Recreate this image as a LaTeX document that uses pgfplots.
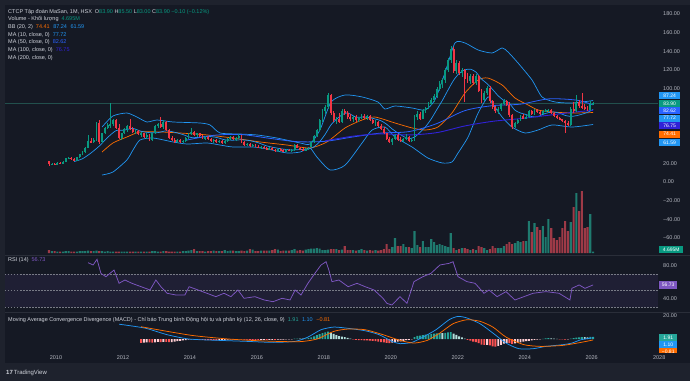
\documentclass[border=0pt]{standalone}
\usepackage{fontspec}
\setmainfont{Liberation Sans}
\usepackage{pgfplots}
\pgfplotsset{compat=1.18}
\usepgfplotslibrary{fillbetween}
\usepackage{pgfplotstable}

\definecolor{outerbg}{HTML}{1E222D}
\definecolor{bg}{HTML}{151924}
\definecolor{sep}{HTML}{2A2E39}
\definecolor{txt}{HTML}{D1D4DC}
\definecolor{tickc}{HTML}{B2B5BE}
\definecolor{up}{HTML}{089981}
\definecolor{dn}{HTML}{F23645}
\definecolor{volup}{HTML}{1F7A6F}
\definecolor{voldn}{HTML}{9E3A47}
\definecolor{bbblue}{HTML}{2196F3}
\definecolor{bbor}{HTML}{FF6D00}
\definecolor{mafifty}{HTML}{2962FF}
\definecolor{mahund}{HTML}{3022D8}
\definecolor{rsi}{HTML}{7E57C2}
\definecolor{rsidash}{HTML}{787B86}
\definecolor{hup}{HTML}{26A69A}
\definecolor{hupl}{HTML}{B2DFDB}
\definecolor{hdn}{HTML}{FF5252}
\definecolor{hdnl}{HTML}{FFCDD2}
\definecolor{pline}{HTML}{22504D}

\newcommand\sm{\fontsize{5.5}{6.6}\selectfont}

% monthly candles: m = months since Jan 2010, open high low close, volume (relative)
\pgfplotstableread{
m o h l c v
-3 22 23 17 19 3
-2 19 20 18 19.5 2
-1 19.5 20.5 18.5 19 2
0 19 21 18.5 20.5 1.5
1 20.5 21.5 19.5 20 1.5
2 20 22 19.5 21.5 1.5
3 21.5 26 21 25.5 2
4 25.5 27 24.5 26 2
5 26 27 24 24.5 1.5
6 24.5 25.5 22.5 23 1.5
7 23 27 22.5 26.5 1.5
8 26.5 30 26 29.5 2
9 29.5 33 28.5 32 2
10 32 37.5 31 36.5 2
11 36.5 50 36 44 2.5
12 44 47 41.5 42.5 2
13 42.5 47 42 45 2
14 45 64 44 63 2.5
15 63 66 41 43 2
16 43 53 42 52 2
17 52 59 51 58 1.5
18 58 63 57 61 2
19 61 85 58 62 1.5
20 62 67 60 66 1.5
21 66 67 57 58 1.5
22 58 62 46 47 1.5
23 47 53 45 52 1.5
24 52 58 51 57 1.5
25 57 61 54 60 1.5
26 60 67 56 57 1.5
27 57 59 52 54 1.5
28 54 57 51 55 1.5
29 55 56 50 51 1.5
30 51 54 48 52 1.5
31 52 53 47 48 1.5
32 48 52 46 50 1.5
33 50 51 44 45 1.5
34 45 53 44 52 2
35 52 61 51 60 2
36 60 63 58 62 1.5
37 62 70 58 59 1.5
38 59 66 57 64 2
39 64 65 55 56 2
40 56 57 46 47 1.5
41 47 49 44 45 1.5
42 45 47 42 43 1.5
43 43 46 42 45 1.5
44 45 46 42 43 1.5
45 43 45 41.5 44 2
46 44 48 43 47 2
47 47 53 46 52 2.5
48 52 58 50 54 3
49 54 55 49 50 4
50 50 53 48 52 2
51 52 53 48 49 2
52 49 50 46 47 2
53 47 49 45 48 1.5
54 48 49 45 46 2
55 46 47 43 44 2
56 44 46 42 45 2.5
57 45 46 42 43 2
58 43 45 42 44 2
59 44 45 41 42 2
60 42 45 41 44 3
61 44 47 43 46 2
62 46 49 45 48 2.5
63 48 49 45 46 2.5
64 46 48 44 47 2
65 47 51 46 49 2
66 49 50 42 43 2.5
67 43 44 39 40 2
68 40 42 39 41 2.5
69 41 42 38 39 4
70 39 41 38 40 3.5
71 40 41 37 38 2
72 38 39.5 36.5 37 2
73 37 38.5 35.5 38 2.5
74 38 38.5 35 36 2.5
75 36 37 34 35 2.5
76 35 37 34.5 36.5 2.5
77 36.5 37 34 34.5 3
78 34.5 35 32.5 33 4
79 33 35.5 32.5 35 3.5
80 35 36 33.5 34 2
81 34 35 32 32.5 2.5
82 32.5 35 32 34.5 2.5
83 34.5 35 33 33.5 2.5
84 33.5 35 32.5 34 3
85 34 41 33.5 39.5 4
86 39.5 40.5 36 36.5 2.5
87 36.5 38 34.5 35 3
88 35 36 33.5 34 2.5
89 34 36 33 35.5 3.5
90 35.5 38 34.5 37.5 4
91 37.5 44 37 43 4.5
92 43 50 42 49 4.5
93 49 57 48 56 5
94 56 67 55 66 4.5
95 66 78 64 76 3
96 76 83 73 80 3
97 80 95 78 93 3.5
98 93 94 72 74 4
99 74 76 64 66 4
100 66 70 62 68 4
101 68 74 63 64 3
102 64 78 63 76 3.5
103 76 78 72 74 7
104 74 76 68 70 3
105 70 73 65 67 3
106 67 71 64 70 3
107 70 72 64 66 2.5
108 66 70 64 69 3
109 69 73 67 71 4
110 71 73 68 69 3
111 69 72 66 71 2.5
112 71 72 65 66 3
113 66 68 62 63 2.5
114 63 66 60 64 3
115 64 65 59 60 2.5
116 60 62 56 57 3
117 57 59 51 52 4
118 52 53 45 46 9
119 46 48 42 43 4
120 43 47 40 46 6
121 46 51 45 50 15
122 50 51 44 45 7
123 45 48 43 44 7
124 44 47 43 46 9
125 46 51 45 48 6
126 48 49 43 44 6
127 44 47 43 45 5
128 45 72 44 70 22
129 70 76 66 73 8
130 73 75 66 68 6
131 68 78 67 77 12
132 77 80 74 79 6
133 79 86 78 84 6
134 84 90 82 88 14
135 88 94 86 92 11
136 92 102 90 100 8
137 100 108 97 105 9
138 105 111 101 109 8
139 109 122 106 120 7
140 120 133 118 131 6
141 131 146 128 142 20
142 142 145 117 119 5
143 119 131 116 128 3
144 128 130 115 117 4
145 117 122 112 120 5
146 120 121 86 110 5
147 110 117 106 108 4
148 108 116 105 114 3
149 114 116 104 106 4
150 106 116 104 114 3
151 114 115 96 98 7
152 98 100 85 88 6
153 88 97 87 95 5
154 95 103 93 101 3
155 101 103 85 87 4
156 87 88 78 80 7
157 80 81 74 76 5
158 76 80 73 78 5
159 78 85 76 84 5
160 84 89 82 87 7
161 87 88 81 83 9
162 83 86 70 72 11
163 72 73 57 59 9
164 59 64 58 63 10
165 63 67 62 66 12
166 66 72 65 71 11
167 71 73 67 68 12
168 68 72 67 70 12
169 70 77 69 76 32
170 76 77 72 73 21
171 73 78 72 77 30
172 77 78 74 75 26
173 75 76 72 73 23
174 73 77 72 76 27
175 76 78 75 77 16
176 77 78 75 77.5 34
177 77.5 78 73 74 25
178 74 75 70 71 15
179 71 72 68 69 13
180 69 70 66 67 16
181 67 68 64 65 25
182 65 66 52 63 32
183 63 65 60 61 22
184 61 80 60 78 31
185 78 86 74 76 46
186 76 93 75 86 60
187 86 88 79 81 42
188 81 95 78 80 62
189 80 84 77 79 25
190 79 81 76 77 26
191 77 87 76 84 39
192 83.9 85.5 83 83.9 1.5
}\candles

% MACD histogram: m, value, colour class (1 up-rising, 2 up-falling, 3 down-falling, 4 down-rising)
\pgfplotstableread{
m h k
30 -3.4 3
31 -3.2 4
32 -2.9 4
33 -3.0 3
34 -3.2 3
35 -2.8 4
36 -2.5 4
37 -2.6 3
38 -2.4 4
39 -2.5 3
40 -2.7 3
41 -2.6 4
42 -2.2 4
43 -1.8 4
44 -1.5 4
45 -1.2 4
46 -0.9 4
47 -0.5 4
48 -0.3 4
49 -0.4 3
50 -0.5 3
51 -0.6 3
52 -0.8 3
53 -0.9 3
54 -0.9 3
55 -1.0 3
56 -1.0 3
57 -1.1 3
58 -1.0 4
59 -1.0 4
60 -0.8 4
61 -0.6 4
62 -0.4 4
63 -0.3 4
64 -0.2 4
65 -0.1 4
66 -0.3 3
67 -0.5 3
68 -0.6 3
69 -0.7 3
70 -0.7 3
71 -0.8 3
72 -0.8 3
73 -0.7 4
74 -0.7 4
75 -0.8 3
76 -0.7 4
77 -0.7 4
78 -0.7 3
79 -0.6 4
80 -0.5 4
81 -0.5 4
82 -0.4 4
83 -0.3 4
84 -0.2 4
85 0.3 1
86 0.4 1
87 0.4 2
88 0.3 2
89 0.4 1
90 0.8 1
91 1.5 1
92 2.4 1
93 3.3 1
94 4.3 1
95 5.2 1
96 5.8 1
97 6.5 1
98 5.5 2
99 4.4 2
100 3.5 2
101 2.6 2
102 2.2 2
103 1.6 2
104 1.0 2
105 0.4 2
106 -0.2 3
107 -0.7 3
108 -0.9 3
109 -1.0 3
110 -1.1 3
111 -1.1 3
112 -1.4 3
113 -1.7 3
114 -1.9 3
115 -2.2 3
116 -2.6 3
117 -3.0 3
118 -3.4 3
119 -3.6 3
120 -3.2 4
121 -2.6 4
122 -2.3 4
123 -2.0 4
124 -1.6 4
125 -1.0 4
126 -0.8 4
127 -0.4 4
128 1.6 1
129 2.8 1
130 2.9 1
131 3.5 1
132 3.8 1
133 4.1 1
134 4.4 1
135 4.6 1
136 5.0 1
137 5.2 1
138 5.1 2
139 5.4 1
140 5.8 1
141 6.1 1
142 4.6 2
143 3.6 2
144 2.4 2
145 1.4 2
146 0.4 2
147 -0.7 3
148 -1.4 3
149 -2.2 3
150 -2.6 3
151 -3.6 3
152 -4.8 3
153 -5.1 3
154 -5.0 4
155 -5.6 3
156 -6.3 3
157 -6.6 3
158 -6.0 4
159 -5.0 4
160 -4.0 4
161 -3.4 4
162 -3.6 3
163 -4.2 3
164 -3.8 4
165 -3.3 4
166 -2.8 4
167 -2.3 4
168 -1.9 4
169 -1.5 4
170 -1.1 4
171 -0.8 4
172 -0.5 4
173 -0.3 4
174 0.2 1
175 0.5 1
176 0.7 1
177 0.6 2
178 0.4 2
179 0.2 2
180 -0.2 3
181 -0.4 3
182 -0.5 3
183 -0.4 4
184 0.4 1
185 0.8 1
186 1.3 1
187 1.5 1
188 1.7 1
189 1.6 2
190 1.5 2
191 1.8 1
192 1.91 1
}\hist

\pgfplotsset{
  pane/.style={scale only axis, width=653pt, xmin=-18.28, xmax=215.77,
    axis line style={draw=none}, tick style={draw=none}, major tick length=0pt,
    xtick=\empty, clip=true,
    ticklabel style={font=\sm, text=tickc},
    yticklabel pos=right,
    yticklabel style={anchor=west, inner sep=0pt, xshift=5pt}},
  vbody/.style={draw=none, mark=none, error bars/y dir=both, error bars/y explicit, error bars/error mark=none},
}
\tikzset{vbox/.style={anchor=west, inner sep=0pt, minimum height=7.3pt, minimum width=21pt, text=white, font=\fontsize{5}{5}\selectfont}}

\begin{document}
\begin{tikzpicture}[x=1pt,y=1pt]
\fill[outerbg] (0,0) rectangle (690,381);
\fill[bg] (5,18) rectangle (690,376);

% ---------- volume ----------
\begin{axis}[pane, at={(5pt,128pt)}, anchor=south west, height=248pt, ymin=0, ymax=248, ytick=\empty]
\addplot[ybar, bar width=2.1pt, bar shift=0pt, fill=volup, draw=none,
  restrict expr to domain={\thisrow{c}-\thisrow{o}}{0:1000}]
  table[x expr=\thisrow{m}+0.5, y=v] {\candles};
\addplot[ybar, bar width=2.1pt, bar shift=0pt, fill=voldn, draw=none,
  restrict expr to domain={\thisrow{c}-\thisrow{o}}{-1000:-0.001}]
  table[x expr=\thisrow{m}+0.5, y=v] {\candles};
\end{axis}

% ---------- price ----------
\begin{axis}[pane, at={(5pt,126pt)}, anchor=south west, height=250pt, ymin=-78.2, ymax=189.6,
  ytick={-60,-40,-20,0,20,100,120,140,160,180},
  yticklabels={−60.00,−40.00,−20.00,0.00,20.00,100.00,120.00,140.00,160.00,180.00}]
\addplot[pline, line width=0.5pt] coordinates {(-18.28,83.9) (215.77,83.9)};
% Bollinger bands
\addplot[name path=bbu, bbblue, line width=0.7pt, smooth, tension=0.4] coordinates {
(16.5,58.9)(20.4,70.7)(25.4,73.9)(29,69.6)(32.6,64.3)(36.2,66.4)(41.9,64.3)(51.6,63.2)(55.2,61.1)(58.8,52.5)(65.9,51.4)(72,50.4)(79.2,47.1)(87.5,41.8)(91,40.7)(94.6,55.7)(98.6,85.7)(103.6,93.2)(109.7,91.1)(115.4,85.7)(117.9,78.2)(121.5,81.4)(127.6,79.3)(132.3,77.1)(135.8,87.9)(139.4,116.8)(143,148.9)(146.6,148.9)(151.3,141.4)(156.3,138.2)(159.9,143.6)(162,139.3)(165.6,127.5)(170.6,109.3)(174.2,91.1)(178.9,85.7)(185,84.6)(192.5,87.24)};
\addplot[name path=bbl, bbblue, line width=0.7pt, smooth, tension=0.4] coordinates {
(16.5,7.5)(20.4,10.7)(25.4,23.6)(27.6,34.3)(30.1,45)(34.8,47.1)(41.9,42.9)(47,40.7)(54.1,41.8)(58.8,39.6)(63.4,37.5)(70.6,37.5)(75.6,35.4)(82.8,31.1)(87.5,32.1)(91,36.4)(93.5,26.8)(98.2,12.9)(103.6,18)(109.7,41.8)(113.3,55.7)(117.9,58.9)(121.5,48.2)(127.6,37.5)(133.3,25.7)(138.4,20.4)(141.9,21.4)(144.1,31.1)(147.7,48.2)(151.3,73.9)(154.8,91.1)(156.3,84.6)(159.9,69.6)(163.4,58.9)(168.1,52.5)(172.8,55.7)(177.8,61.1)(185,58.9)(192.5,61.59)};
\addplot[fill=bbblue, fill opacity=0.07, draw=none] fill between[of=bbu and bbl];
\addplot[bbor, line width=0.7pt, smooth, tension=0.4] coordinates {
(16.5,32.1)(20.4,41.8)(25.4,48.2)(30.1,53.6)(37.3,53.6)(44.4,52.5)(54.1,50.4)(63.4,47.1)(73.1,42.9)(82.8,39.6)(91,36.4)(97.1,42.9)(103.6,57.9)(109.7,66.4)(114.3,69.6)(121.5,63.2)(127.6,57.9)(132.3,55.7)(136.9,58.9)(141.9,73.9)(146.6,95.4)(151.3,109.3)(154.8,111.4)(159.9,103.9)(164.5,90)(169.2,82.5)(172.8,77.1)(177.8,75)(185,73.9)(192.5,74.41)};
% MA 10
\addplot[bbblue, line width=0.7pt, smooth, tension=0.4] coordinates {
(6.5,21.9)(9.5,24.9)(12.5,31)(15.5,38.5)(18.5,47.7)(21.5,55)(24.5,55.6)(27.5,57.4)(30.5,54.3)(33.5,52.9)(36.5,52.9)(39.5,54.8)(42.5,53.3)(45.5,50.8)(48.5,47.6)(51.5,47.9)(54.5,48.9)(57.5,47.8)(60.5,45.2)(63.5,44.8)(66.5,45.2)(69.5,44.3)(72.5,42)(75.5,38.7)(78.5,36.7)(81.5,35.2)(84.5,34.3)(87.5,34.8)(90.5,35.3)(92.5,37.8)(94.5,43.2)(96.5,51.2)(98.5,61)(100.5,67.1)(102.5,71.9)(104.5,74.1)(107.5,69.5)(110.5,69.6)(113.5,68.2)(116.5,65.6)(118.5,61.9)(120.5,56.8)(122.5,52.6)(124.5,48.9)(126.5,46.4)(128.5,48.1)(130.5,53.3)(132.5,59.4)(134.5,67.6)(136.5,77.6)(138.5,87.5)(140.5,98.5)(142.5,109)(144.5,116.3)(146.5,120.1)(148.5,120.9)(150.5,117.8)(152.5,110.3)(154.5,105.4)(156.5,99.1)(158.5,92.3)(160.5,87.4)(162.5,84.3)(164.5,76.9)(166.5,73.9)(168.5,72.3)(170.5,70.1)(172.5,69.8)(174.5,72.5)(176.5,74.3)(178.5,75)(180.5,73.7)(182.5,71.3)(184.5,70.3)(186.5,71)(188.5,72.6)(190.5,74.6)(192.5,77.72)};
% MA 50
\addplot[mafifty, line width=0.8pt, smooth, tension=0.5] coordinates {
(46.5,44.7)(56.5,50)(66.5,50.8)(76.5,46.8)(86.5,43.2)(96.5,43.6)(106.5,48.3)(116.5,52.4)(126.5,54)(136.5,62.6)(146.5,76.4)(156.5,81.8)(166.5,83.4)(176.5,89)(186.5,87.7)(192.5,82.62)};
% MA 100
\addplot[mahund, line width=0.9pt, smooth, tension=0.5] coordinates {
(96.5,44.1)(106.5,49.1)(116.5,51.6)(126.5,50.4)(136.5,52.9)(146.5,60)(156.5,65)(166.5,67.9)(176.5,71.5)(186.5,75.1)(192.5,76.75)};
% candles: wicks
\addplot[vbody, restrict expr to domain={\thisrow{c}-\thisrow{o}}{0:1000},
  error bars/error bar style={draw=up, line width=0.55pt}]
  table[x expr=\thisrow{m}+0.5, y expr=(\thisrow{h}+\thisrow{l})/2, y error expr=(\thisrow{h}-\thisrow{l})/2] {\candles};
\addplot[vbody, restrict expr to domain={\thisrow{c}-\thisrow{o}}{-1000:-0.001},
  error bars/error bar style={draw=dn, line width=0.55pt}]
  table[x expr=\thisrow{m}+0.5, y expr=(\thisrow{h}+\thisrow{l})/2, y error expr=(\thisrow{h}-\thisrow{l})/2] {\candles};
% candles: bodies
\addplot[vbody, restrict expr to domain={\thisrow{c}-\thisrow{o}}{0:1000},
  error bars/error bar style={draw=up, line width=1.9pt}]
  table[x expr=\thisrow{m}+0.5, y expr=(\thisrow{o}+\thisrow{c})/2, y error expr={max(abs(\thisrow{c}-\thisrow{o})/2,0.4)}] {\candles};
\addplot[vbody, restrict expr to domain={\thisrow{c}-\thisrow{o}}{-1000:-0.001},
  error bars/error bar style={draw=dn, line width=1.9pt}]
  table[x expr=\thisrow{m}+0.5, y expr=(\thisrow{o}+\thisrow{c})/2, y error expr={max(abs(\thisrow{c}-\thisrow{o})/2,0.4)}] {\candles};
\end{axis}

% ---------- RSI ----------
\begin{axis}[pane, at={(5pt,69pt)}, anchor=south west, height=56pt, ymin=23.9, ymax=91.8,
  ytick={40,80}, yticklabels={40.00,80.00}]
\fill[rsi, opacity=0.1] (axis cs:-18.28,30) rectangle (axis cs:215.77,70);
\draw[rsidash, line width=0.5pt, dash pattern=on 1.5pt off 1.5pt] (axis cs:-18.28,70) -- (axis cs:215.77,70);
\draw[rsidash, line width=0.5pt, dash pattern=on 1.5pt off 1.5pt] (axis cs:-18.28,50) -- (axis cs:215.77,50);
\draw[rsidash, line width=0.5pt, dash pattern=on 1.5pt off 1.5pt] (axis cs:-18.28,30) -- (axis cs:215.77,30);
\addplot[rsi, line width=0.75pt] coordinates {
(11.5,83.7)(13.3,80.9)(14.7,87.8)(16.1,70.8)(17.9,66.7)(20.8,74.8)(22.6,58.7)(24.7,62.7)(27.2,58.7)(30.5,54.6)(33.7,50.6)(35.8,62.7)(37.6,54.6)(39.8,46.6)(43,44.5)(46.2,44.5)(47.7,54.6)(50.9,50.6)(54.1,46.6)(57.3,42.5)(60.2,46.6)(62.7,42.5)(65.2,50.6)(67.4,40.5)(71.3,42.5)(74.6,38.5)(77.8,36.4)(81,40.5)(83.9,38.5)(85.7,50.6)(87.8,44.5)(90.3,58.7)(92.8,70.8)(95,80.9)(96.8,84.9)(97.8,74.8)(98.9,60.7)(101.4,62.7)(104.7,54.6)(107.9,58.7)(110.8,54.6)(114,50.6)(117.2,40.5)(118.6,34.4)(120.4,32.4)(123.3,42.5)(125.8,34.4)(128.3,60.7)(131.5,66.7)(134.4,70.8)(137.6,80.9)(140.9,82.9)(142.3,84.9)(144.1,66.7)(147.3,60.7)(150.2,58.7)(153.4,46.6)(155.2,50.6)(158.1,42.5)(161.3,48.6)(164.5,38.5)(167.7,42.5)(171,46.6)(175.6,48.6)(180.3,46.6)(184.2,38.5)(184.9,52.6)(187.5,56.7)(189.6,52.6)(192.5,56.73)};
\end{axis}

% ---------- MACD ----------
\begin{axis}[pane, at={(5pt,30pt)}, anchor=south west, height=39pt, ymin=-10.4, ymax=23.5,
  ytick={20}, yticklabels={20.00},
  xtick={0,24,48,72,96,120,144,168,192},
  xticklabels={2010,2012,2014,2016,2018,2020,2022,2024,2026},
  xticklabel style={anchor=north, inner sep=0pt, yshift=-4pt}]
\addplot[ybar, bar width=1.9pt, bar shift=0pt, fill=hup, draw=none, restrict expr to domain={\thisrow{k}}{0.5:1.5}]
  table[x expr=\thisrow{m}+0.5, y=h] {\hist};
\addplot[ybar, bar width=1.9pt, bar shift=0pt, fill=hupl, draw=none, restrict expr to domain={\thisrow{k}}{1.5:2.5}]
  table[x expr=\thisrow{m}+0.5, y=h] {\hist};
\addplot[ybar, bar width=1.9pt, bar shift=0pt, fill=hdn, draw=none, restrict expr to domain={\thisrow{k}}{2.5:3.5}]
  table[x expr=\thisrow{m}+0.5, y=h] {\hist};
\addplot[ybar, bar width=1.9pt, bar shift=0pt, fill=hdnl, draw=none, restrict expr to domain={\thisrow{k}}{3.5:4.5}]
  table[x expr=\thisrow{m}+0.5, y=h] {\hist};
\addplot[bbblue, line width=0.75pt, smooth, tension=0.4] coordinates {
(22.6,12.9)(31.9,9.5)(39.8,3.8)(47.7,0)(58.8,-1.2)(68.1,-2)(77.8,-2.9)(85.7,-2)(90.3,1.7)(95,8.1)(99.6,10.4)(104.7,9.3)(110.8,7.2)(115.8,3.8)(120.4,-2)(123.3,-4)(127.6,-2.9)(131.5,1.7)(136.2,8.1)(140.9,16.8)(144.1,19.7)(147.3,18.3)(152,13.3)(156.6,5.2)(161.3,-3.5)(165.9,-8.4)(171,-8.4)(175.6,-6.4)(181.7,-4.9)(184.9,-3.5)(188.2,-0.6)(192.5,1.1)};
\addplot[bbor, line width=0.75pt, smooth, tension=0.4] coordinates {
(30.5,10.7)(39.8,6.7)(49.5,2.9)(62,0)(74.6,-1.7)(87.1,-2.3)(93.5,0)(99.6,6.7)(104.7,8.7)(110.8,8.1)(117.2,3.8)(123.3,-1.2)(128.3,-3.5)(133,-1.2)(137.6,5.2)(142.3,13.3)(147.3,16.8)(152,15.4)(156.6,10.4)(161.3,1.7)(167.7,-4.9)(173.8,-6.4)(181.7,-5.5)(188.2,-2.9)(192.5,-0.81)};
\end{axis}

% partially hidden 2028 label
\begin{scope}
\clip (640,15) rectangle (664.5,30);
\node[text=tickc, font=\sm, inner sep=0pt] at (659.2,23) {2028};
\end{scope}

% separators
\draw[sep, line width=0.8pt] (5,125.5) -- (690,125.5);
\draw[sep, line width=0.8pt] (5,69) -- (690,69);

% price scale value boxes
\node[vbox, fill=bbblue] at (659,285.3) {87.24};
\node[vbox, fill=up] at (659,277.7) {83.90};
\node[vbox, fill=mafifty] at (659,270.2) {82.62};
\node[vbox, fill=bbblue] at (659,262.8) {77.72};
\node[vbox, fill=mahund] at (659,255.4) {76.75};
\node[vbox, fill=bbor] at (659,246.8) {74.41};
\node[vbox, fill=bbblue] at (659,238.4) {61.59};
\node[vbox, fill=up, minimum width=24pt] at (659,131.7) {4.695M};
\node[vbox, fill=rsi, minimum width=18pt] at (659,96) {56.73};
\node[vbox, fill=hup, minimum width=18pt] at (659,43.7) {1.91};
\node[vbox, fill=bbblue, minimum width=18pt] at (659,36.5) {1.10};
\begin{scope}
\clip (655,29) rectangle (690,40);
\node[vbox, fill=bbor, minimum width=18pt] at (659,29.3) {−0.81};
\end{scope}

% legends
\begin{scope}[every node/.style={anchor=west, inner sep=0pt, text=txt, font=\sm}]
\node at (8,369.3) {CTCP Tập đoàn MaSan, 1M, HSX\hspace{3pt}O\textcolor{up}{83.90} H\textcolor{up}{85.50} L\textcolor{up}{83.00} C\textcolor{up}{83.90} \textcolor{up}{−0.10 (−0.12\%)}};
\node at (8,361.7) {Volume - Khối lượng\hspace{3pt}\textcolor{up}{4.695M}};
\node at (8,354.0) {BB (20, 2)\hspace{3pt}\textcolor{bbor}{74.41}\hspace{2pt} \textcolor{bbblue}{87.24}\hspace{2pt} \textcolor{bbblue}{61.59}};
\node at (8,346.4) {MA (10, close, 0)\hspace{3pt}\textcolor{bbblue}{77.72}};
\node at (8,338.7) {MA (50, close, 0)\hspace{3pt}\textcolor{mafifty}{82.62}};
\node at (8,331.0) {MA (100, close, 0)\hspace{3pt}\textcolor{mahund}{76.75}};
\node at (8,323.3) {MA (200, close, 0)};
\node at (8,121) {RSI (14)\hspace{3pt}\textcolor{rsi}{56.73}};
\node at (8,61) {Moving Average Convergence Divergence (MACD) - Chỉ báo Trung bình Động hội tụ và phân kỳ (12, 26, close, 9)\hspace{3pt}\textcolor{hup}{1.91}\hspace{2pt} \textcolor{bbblue}{1.10}\hspace{2pt} \textcolor{bbor}{−0.81}};
\node[font=\fontsize{6}{6}\selectfont] at (6,8) {{\bfseries 17}\,TradingView};
\end{scope}

\pgfresetboundingbox
\path[use as bounding box] (0,0) rectangle (690,381);
\end{tikzpicture}
\end{document}
